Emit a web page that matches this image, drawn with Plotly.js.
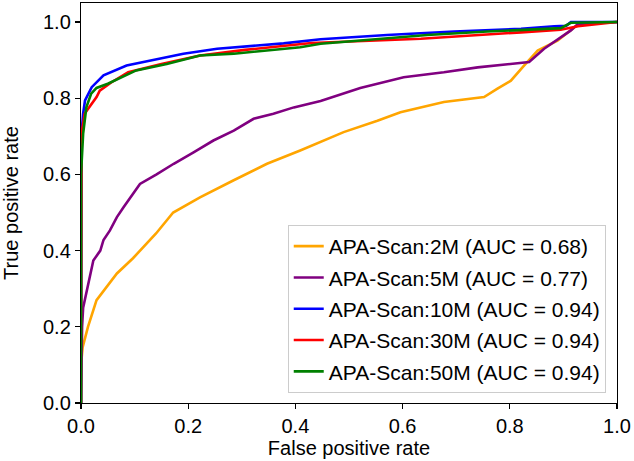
<!DOCTYPE html>
<html>
<head>
<meta charset="utf-8">
<script src="https://cdn.plot.ly/plotly-3.0.1.min.js"></script>
<style>html,body{margin:0;padding:0;background:#fff;}#chart{width:634px;height:461px;}</style>
</head>
<body>
<div id="chart"></div>
<script>
// Series names
const seriesNames = ["APA-Scan:2M (AUC = 0.68)", "APA-Scan:5M (AUC = 0.77)", "APA-Scan:10M (AUC = 0.94)", "APA-Scan:30M (AUC = 0.94)", "APA-Scan:50M (AUC = 0.94)"];

const fpr2m = [0, 0, 0.003, 0.013, 0.029, 0.045, 0.067, 0.097, 0.123, 0.14, 0.172, 0.222, 0.284, 0.347, 0.409, 0.447, 0.49, 0.553, 0.596, 0.677, 0.752, 0.777, 0.802, 0.827, 0.852, 0.889, 0.92, 0.933, 1.0];
const tpr2m = [0, 0.10, 0.146, 0.2, 0.27, 0.30, 0.34, 0.38, 0.42, 0.445, 0.50, 0.54, 0.584, 0.628, 0.663, 0.686, 0.711, 0.741, 0.763, 0.79, 0.803, 0.825, 0.846, 0.886, 0.925, 0.951, 0.986, 0.995, 1.0];

const fpr5m = [0, 0.002, 0.004, 0.014, 0.023, 0.036, 0.042, 0.054, 0.067, 0.08, 0.092, 0.11, 0.141, 0.173, 0.21, 0.247, 0.285, 0.322, 0.359, 0.397, 0.447, 0.521, 0.602, 0.677, 0.74, 0.802, 0.836, 0.864, 0.895, 0.914, 0.927, 1.0];
const tpr5m = [0, 0.2, 0.25, 0.32, 0.374, 0.40, 0.428, 0.453, 0.488, 0.515, 0.54, 0.575, 0.60, 0.628, 0.658, 0.689, 0.715, 0.746, 0.759, 0.776, 0.793, 0.827, 0.855, 0.868, 0.881, 0.89, 0.895, 0.93, 0.96, 0.978, 0.995, 1.0];

const fpr10m = [0, 0, 0.001, 0.004, 0.0075, 0.02, 0.042, 0.085, 0.129, 0.191, 0.254, 0.316, 0.378, 0.447, 0.571, 0.696, 0.821, 0.883, 0.905, 0.914, 1.0];
const tpr10m = [0, 0.6, 0.707, 0.76, 0.794, 0.829, 0.86, 0.886, 0.899, 0.917, 0.93, 0.938, 0.944, 0.955, 0.966, 0.975, 0.982, 0.989, 0.99, 1.0, 1.0];

const fpr30m = [0, 0, 0.001, 0.007, 0.019, 0.029, 0.035, 0.057, 0.088, 0.15, 0.222, 0.306, 0.43, 0.634, 0.821, 0.895, 0.927, 1.0];
const tpr30m = [0, 0.6, 0.707, 0.76, 0.785, 0.803, 0.82, 0.842, 0.868, 0.89, 0.912, 0.927, 0.945, 0.956, 0.973, 0.98, 0.989, 1.0];

const fpr50m = [0, 0, 0.004, 0.01, 0.019, 0.029, 0.05, 0.082, 0.103, 0.16, 0.222, 0.285, 0.347, 0.409, 0.447, 0.646, 0.758, 0.895, 0.914, 1.0];
const tpr50m = [0, 0.6, 0.707, 0.776, 0.812, 0.827, 0.838, 0.86, 0.873, 0.89, 0.912, 0.917, 0.925, 0.934, 0.943, 0.966, 0.975, 0.984, 0.998, 1.0];

const colors = ["#FFA500", "#800080", "#0000FF", "#FF0000", "#008000"];
const xs = [fpr2m, fpr5m, fpr10m, fpr30m, fpr50m];
const ys = [tpr2m, tpr5m, tpr10m, tpr30m, tpr50m];

const xTickVals = [0, 0.2, 0.4, 0.6, 0.8, 1.0];
const yTickVals = [0, 0.2, 0.4, 0.6, 0.8, 1.0];

const traces = xs.map((x, i) => ({
  x: x, y: ys[i], type: "scatter", mode: "lines", name: seriesNames[i],
  legendgroup: "g" + i,
  line: {color: colors[i], width: 2.6}
}));

const font = {family: "Liberation Sans, Arial, sans-serif", size: 20, color: "#000"};

const layout = {
  width: 634, height: 461,
  margin: {l: 81, r: 17, t: 3, b: 58},
  paper_bgcolor: "#fff", plot_bgcolor: "#fff",
  font: font,
  showlegend: true,
  legend: {
    x: 0.979, xanchor: "right", y: 0.025, yanchor: "bottom",
    bgcolor: "rgba(255,255,255,0.8)", bordercolor: "#cccccc", borderwidth: 1,
    font: {family: font.family, size: 21, color: "#000"},
    tracegroupgap: 1
  },
  xaxis: {
    range: [0, 1], tickvals: xTickVals, tickformat: ".1f",
    showgrid: false, zeroline: false,
    showline: true, linecolor: "#000", linewidth: 1.2, mirror: true,
    ticks: "outside", ticklen: 5, tickwidth: 1.2, tickcolor: "#000",
    title: {text: "False positive rate", font: font, standoff: 0}
  },
  yaxis: {
    range: [0, 1.05], tickvals: yTickVals, tickformat: ".1f",
    showgrid: false, zeroline: false,
    showline: true, linecolor: "#000", linewidth: 1.2, mirror: true,
    ticks: "outside", ticklen: 5, tickwidth: 1.2, tickcolor: "#000",
    title: {text: "True positive rate", font: font, standoff: 22}
  }
};

Plotly.newPlot("chart", traces, layout, {staticPlot: true, displayModeBar: false});
</script>
</body>
</html>
